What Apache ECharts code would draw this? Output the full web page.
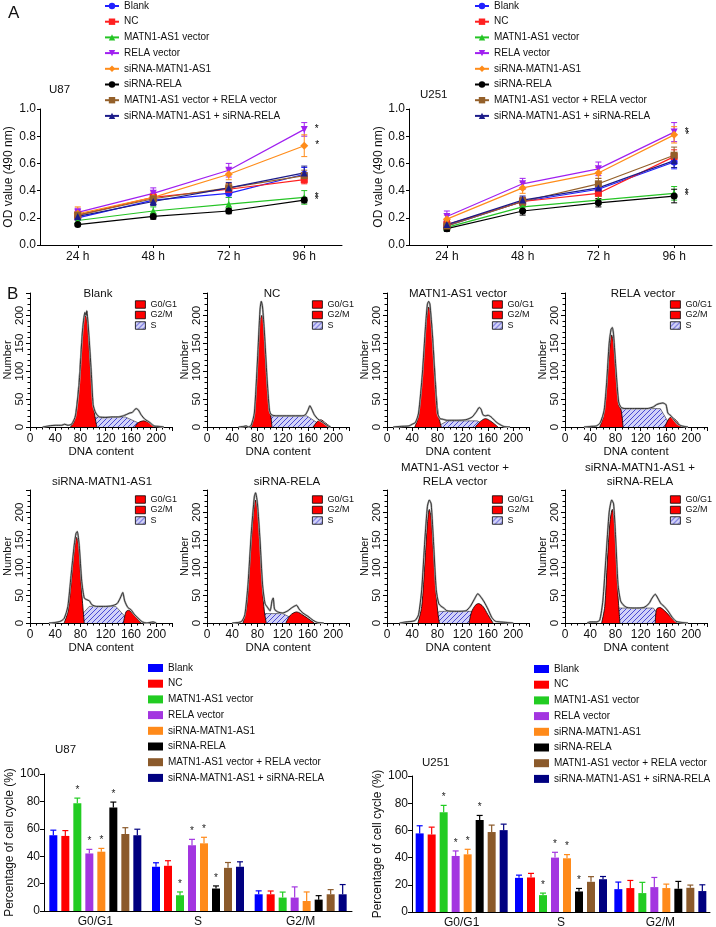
<!DOCTYPE html>
<html><head><meta charset="utf-8">
<script src="https://cdn.jsdelivr.net/npm/echarts@6/dist/echarts.min.js"></script>
<style>html,body{margin:0;padding:0;background:#fff}#c{width:716px;height:927px}</style>
</head><body><div id="c"></div>
<script>
// ---------------- DATA ----------------
const groups = ['Blank','NC','MATN1-AS1 vector','RELA vector','siRNA-MATN1-AS1','siRNA-RELA','MATN1-AS1 vector + RELA vector','siRNA-MATN1-AS1 + siRNA-RELA'];
const timeCats = ['24 h','48 h','72 h','96 h'];

const odU87 = [
 [0.20,0.33,0.38,0.52],
 [0.22,0.35,0.41,0.48],
 [0.18,0.25,0.30,0.35],
 [0.24,0.38,0.55,0.85],
 [0.23,0.35,0.52,0.73],
 [0.15,0.21,0.25,0.33],
 [0.22,0.34,0.42,0.51],
 [0.21,0.32,0.42,0.53]];
const odErrU87 = [
 [0.02,0.03,0.03,0.05],
 [0.03,0.03,0.04,0.03],
 [0.02,0.03,0.05,0.05],
 [0.03,0.04,0.05,0.05],
 [0.05,0.04,0.04,0.08],
 [0.01,0.02,0.02,0.02],
 [0.02,0.03,0.03,0.04],
 [0.02,0.03,0.04,0.05]];
const odStarU87 = [0,0,1,1,1,1,0,0];

const odU251 = [
 [0.14,0.32,0.41,0.61],
 [0.15,0.32,0.38,0.65],
 [0.13,0.28,0.33,0.38],
 [0.21,0.45,0.56,0.83],
 [0.19,0.42,0.53,0.81],
 [0.12,0.25,0.31,0.36],
 [0.14,0.32,0.45,0.66],
 [0.15,0.33,0.42,0.62]];
const odErrU251 = [
 [0.03,0.03,0.04,0.05],
 [0.03,0.03,0.04,0.05],
 [0.02,0.03,0.03,0.05],
 [0.04,0.04,0.05,0.07],
 [0.03,0.04,0.04,0.06],
 [0.02,0.03,0.03,0.05],
 [0.03,0.03,0.04,0.06],
 [0.03,0.03,0.04,0.05]];
const odStarU251 = [0,0,1,1,1,1,0,0];

const phaseCats = ['G0/G1','S','G2/M'];
const cellU87 = [
 [55.3,32.3,12.2],
 [54.8,33.0,12.2],
 [78.7,11.5,9.8],
 [42.0,48.0,9.8],
 [43.3,49.4,7.3],
 [75.5,16.4,8.3],
 [56.2,31.5,12.2],
 [55.3,32.3,12.2]];
const cellErrU87 = [
 [3.7,2.9,2.5],
 [3.9,3.7,2.4],
 [3.7,2.4,4.0],
 [3.0,4.3,7.8],
 [2.4,4.4,6.6],
 [4.0,1.9,2.9],
 [4.6,3.9,3.4],
 [4.4,3.6,7.1]];
const cellStarU87 = [[0,0,0],[0,0,0],[1,1,0],[1,1,0],[1,1,0],[1,1,0],[0,0,0],[0,0,0]];

const cellU251 = [
 [57.8,25.1,16.8],
 [57.0,25.4,17.6],
 [73.4,12.4,13.9],
 [41.2,40.0,18.3],
 [42.4,39.5,17.6],
 [67.6,15.1,17.1],
 [58.8,22.2,17.8],
 [60.2,24.1,15.4]];
const cellErrU251 = [
 [5.6,2.0,5.2],
 [5.4,3.0,5.6],
 [5.0,1.5,7.9],
 [3.7,3.9,7.1],
 [3.7,2.7,2.9],
 [3.4,2.2,5.4],
 [5.1,3.8,2.0],
 [4.4,2.0,4.6]];
const cellStarU251 = [[0,0,0],[0,0,0],[1,1,0],[1,1,0],[1,1,0],[1,1,0],[0,0,0],[0,0,0]];

// flow cytometry histograms: [DNA content, Number]
const histTitles = [['Blank'],['NC'],['MATN1-AS1 vector'],['RELA vector'],['siRNA-MATN1-AS1'],['siRNA-RELA'],['MATN1-AS1 vector +','RELA vector'],['siRNA-MATN1-AS1 +','siRNA-RELA']];

const blankG1 = [[64,0],[70,10],[76,60],[81,140],[85,190],[88,200],[91,185],[95,120],[99,55],[103,18],[106,0]];
const blankS = [[77,0],[106,18],[151,18],[186,0]];
const blankG2 = [[166,0],[172,8],[180,11],[190,7],[200,0]];
const blankRaw = [[20,0],[30,2],[40,3],[50,3],[55,5],[60,3],[66,5],[72,20],[78,80],[83,170],[87,205],[89,200],[90,208],[93,170],[97,100],[100,40],[103,28],[106,22],[110,18],[120,17],[130,18],[140,18],[148,20],[152,22],[158,25],[162,26],[168,33],[172,30],[176,22],[182,14],[190,8],[196,2],[205,1],[212,0]];

const ncG1 = [[70,0],[75,20],[80,110],[84,190],[87,200],[90,180],[94,100],[98,35],[101,20],[103,0]];
const ncS = [[78,0],[101,20],[158,20],[185,0]];
const ncG2 = [[168,0],[175,10],[180,13],[188,7],[196,0]];
const ncRaw = [[50,0],[58,1],[62,2],[66,0],[70,3],[75,25],[80,120],[84,210],[86,225],[88,215],[91,170],[95,90],[99,30],[102,22],[110,20],[130,20],[150,20],[156,22],[160,30],[163,38],[166,32],[170,22],[176,14],[184,8],[190,3],[196,0]];

const matnG1 = [[44,0],[50,20],[56,90],[61,170],[64,205],[66,215],[69,205],[73,150],[77,80],[81,25],[86,0]];
const matnS = [[78,0],[96,11],[143,11],[160,0]];
const matnG2 = [[140,0],[148,10],[156,15],[165,10],[176,0]];
const matnRaw = [[10,0],[20,1],[35,2],[40,5],[45,8],[50,25],[56,95],[61,180],[64,220],[66,225],[68,220],[72,165],[76,90],[80,25],[84,15],[88,14],[95,12],[110,12],[125,13],[135,18],[142,28],[146,35],[149,32],[152,22],[156,20],[160,21],[165,18],[172,10],[178,5],[185,1],[195,0]];

const relaG1 = [[55,0],[61,20],[66,70],[70,130],[74,165],[77,150],[81,90],[85,40],[89,30],[92,0]];
const relaS = [[75,0],[88,33],[151,33],[168,0]];
const relaG2 = [[158,0],[163,12],[168,18],[176,12],[184,0]];
const relaRaw = [[30,0],[40,1],[50,2],[56,8],[62,30],[66,80],[70,150],[73,175],[75,178],[77,165],[81,100],[85,45],[89,35],[95,33],[110,33],[130,33],[140,36],[145,40],[150,42],[155,43],[160,40],[163,25],[168,20],[172,14],[178,6],[185,2],[195,0]];

const simG1 = [[54,0],[60,20],[65,70],[70,130],[74,155],[77,140],[80,90],[83,40],[86,0]];
const simS = [[70,0],[94,30],[136,30],[160,0]];
const simG2 = [[148,0],[152,20],[156,23],[165,14],[176,0]];
const simRaw = [[30,0],[40,1],[48,3],[54,8],[60,30],[65,85],[70,140],[73,162],[75,165],[78,140],[82,75],[86,45],[90,42],[94,40],[98,33],[105,30],[120,30],[130,31],[138,35],[143,45],[147,55],[150,40],[155,28],[160,24],[165,16],[172,8],[178,2],[185,0],[195,2],[200,0]];

const sirG1 = [[57,0],[63,30],[68,110],[73,190],[77,222],[80,205],[84,140],[88,60],[91,20],[94,0]];
const sirS = [[65,0],[84,17],[120,17],[150,0]];
const sirG2 = [[125,0],[132,14],[142,20],[155,12],[170,0]];
const sirRaw = [[40,0],[50,1],[55,3],[60,15],[65,70],[70,160],[75,228],[77,235],[80,215],[84,150],[88,70],[92,35],[96,28],[100,22],[103,40],[105,45],[107,25],[112,20],[120,18],[128,22],[135,28],[142,32],[146,25],[152,18],[160,12],[168,5],[175,1],[185,0]];

const comboG1 = [[49,0],[55,30],[60,110],[64,180],[67,205],[70,190],[74,120],[78,50],[81,15],[83,0]];
const comboS = [[62,0],[83,21],[135,21],[160,0]];
const comboG2 = [[130,0],[134,20],[140,32],[145,35],[152,30],[160,15],[168,0]];
const comboRaw = [[20,0],[30,2],[40,3],[45,5],[50,15],[55,60],[60,150],[64,210],[67,222],[70,215],[74,140],[78,60],[82,35],[86,30],[90,27],[95,22],[110,21],[125,22],[132,30],[138,42],[144,53],[148,48],[154,38],[160,25],[166,10],[172,3],[180,2],[190,1],[200,0]];

const sicoG1 = [[58,0],[63,30],[67,110],[71,180],[75,205],[78,185],[81,120],[84,50],[87,0]];
const sicoS = [[62,0],[78,27],[140,27],[158,0]];
const sicoG2 = [[143,0],[145,25],[150,28],[158,22],[168,10],[178,0]];
const sicoRaw = [[35,0],[40,2],[50,2],[55,5],[60,40],[65,120],[70,200],[74,222],[77,215],[80,160],[84,70],[88,40],[92,33],[98,28],[110,27],[125,28],[133,35],[138,45],[143,52],[147,45],[152,35],[157,30],[163,22],[170,10],[176,3],[185,1],[195,0]];

const histG1 = [blankG1, ncG1, matnG1, relaG1, simG1, sirG1, comboG1, sicoG1];
const histS = [blankS, ncS, matnS, relaS, simS, sirS, comboS, sicoS];
const histG2 = [blankG2, ncG2, matnG2, relaG2, simG2, sirG2, comboG2, sicoG2];
const histRaw = [blankRaw, ncRaw, matnRaw, relaRaw, simRaw, sirRaw, comboRaw, sicoRaw];

// ---------------- STYLE ----------------
const FONT = '"Liberation Sans", Arial, Helvetica, sans-serif';
const lineColors = ['#2020ff','#ff2020','#25c425','#a020f0','#ff8c1a','#000000','#94602a','#1c1c8a'];
const barColors = ['#0000ff','#ff0000','#22cc22','#a335e0','#ff8a1a','#000000','#8b5a2b','#000080'];
const lineSymbols = ['circle','rect','triangle','path://M0,0L10,0L5,9Z','diamond','circle','rect','triangle'];

const hc = document.createElement('canvas');
hc.width = 5; hc.height = 5;
(function(){const c=hc.getContext('2d');c.fillStyle='#d2d2f8';c.fillRect(0,0,5,5);c.strokeStyle='#4a4ad2';c.lineWidth=1;
 c.beginPath();c.moveTo(0,5);c.lineTo(5,0);c.moveTo(-1,1);c.lineTo(1,-1);c.moveTo(4,6);c.lineTo(6,4);c.stroke();})();
const hatch = {image: hc, repeat: 'repeat'};

const grids = [], xAxes = [], yAxes = [], series = [], legends = [], elements = [];
function addGrid(g){ grids.push(Object.assign({outerBoundsMode:'none', containLabel:false}, g)); return grids.length - 1; }
const axisLineBlack = {show:true, lineStyle:{color:'#000', width:1}};
function txt(text, x, y, size, align){
  elements.push({type:'text', x:x, y:y, silent:true, style:{text:text, fill:'#111', font:size+'px '+FONT, align:align||'left', verticalAlign:'middle', textAlign:align||'left', textVerticalAlign:'middle'}});
}

// ---------- Panel A: line charts ----------
const lineCfg = [
 {data:odU87, err:odErrU87, star:odStarU87, left:40, width:302, nameGap:25, title:'U87', tx:49, ty:90, leg:104},
 {data:odU251, err:odErrU251, star:odStarU251, left:409, width:303, nameGap:23, title:'U251', tx:420, ty:95, leg:474}
];
lineCfg.forEach(cfg => {
  const gi = addGrid({left:cfg.left, top:109, width:cfg.width, height:136});
  xAxes.push({type:'category', gridIndex:gi, data:timeCats, boundaryGap:true, axisLine:axisLineBlack,
    axisTick:{show:true, alignWithLabel:true, length:3, lineStyle:{color:'#000'}},
    axisLabel:{color:'#111', fontSize:12, margin:6, fontFamily:FONT}, splitLine:{show:false}});
  yAxes.push({type:'value', gridIndex:gi, min:0, max:1, interval:0.2, axisLine:axisLineBlack,
    axisTick:{show:true, length:3, lineStyle:{color:'#000'}},
    axisLabel:{color:'#111', fontSize:12, margin:4, fontFamily:FONT, formatter:v=>v.toFixed(1)},
    splitLine:{show:false}, name:'OD value (490 nm)', nameLocation:'middle', nameGap:cfg.nameGap, nameRotate:90,
    nameTextStyle:{fontSize:12, color:'#111', fontFamily:FONT}});
  const errData = [];
  groups.forEach((g, i) => {
    series.push({type:'line', name:g, xAxisIndex:gi, yAxisIndex:gi, symbol:lineSymbols[i],
      symbolSize: i===4 ? 8 : 7, z:3, lineStyle:{color:lineColors[i], width:1.2}, itemStyle:{color:lineColors[i]},
      data: cfg.data[i].map((v, k) => (k === 3 && cfg.star[i]) ? {value:v, label:{show:true, formatter:'*', position:'right', distance:7, color:'#000', fontSize:10, fontFamily:FONT}} : v)});
    cfg.data[i].forEach((v, k) => errData.push([k, v, cfg.err[i][k], i]));
  });
  series.push({type:'custom', xAxisIndex:gi, yAxisIndex:gi, z:2, silent:true, data:errData,
    renderItem:(params, api) => {
      const c = api.value(0), v = api.value(1), e = api.value(2), col = lineColors[api.value(3)];
      const t = api.coord([c, v + e]), b = api.coord([c, v - e]);
      const st = {stroke:col, lineWidth:1};
      return {type:'group', children:[
        {type:'line', shape:{x1:t[0], y1:t[1], x2:b[0], y2:b[1]}, style:st},
        {type:'line', shape:{x1:t[0]-3, y1:t[1], x2:t[0]+3, y2:t[1]}, style:st},
        {type:'line', shape:{x1:b[0]-3, y1:b[1], x2:b[0]+3, y2:b[1]}, style:st}]};
    }});
  legends.push({orient:'vertical', left:cfg.leg, top:0, padding:0, itemGap:3.7, itemWidth:14, itemHeight:8, selectedMode:false,
    textStyle:{fontSize:10, color:'#111', fontFamily:FONT, lineHeight:12}, data:groups.slice()});
  txt(cfg.title, cfg.tx, cfg.ty, 11.5);
});
txt('A', 8, 13, 17);
txt('B', 7, 294, 17);

// ---------- Panel B: histograms ----------
const histLeft = [30, 207, 387, 565];
const histTop = [293, 490];
const titleX = [98, 272, 458, 643, 102, 287, 455, 640];
histTitles.forEach((t, p) => {
  const row = p < 4 ? 0 : 1, col = p % 4;
  const gi = addGrid({left:histLeft[col], top:histTop[row], width:142, height: row ? 133 : 134});
  xAxes.push({type:'value', gridIndex:gi, min:0, max:225, interval:40, axisLine:axisLineBlack,
    axisTick:{show:true, length:4, lineStyle:{color:'#000'}},
    minorTick:{show:true, splitNumber:4, length:2.5, lineStyle:{color:'#000'}},
    axisLabel:{showMaxLabel:false, color:'#111', fontSize:12, margin:6, fontFamily:FONT},
    splitLine:{show:false}, minorSplitLine:{show:false},
    name:'DNA content', nameLocation:'middle', nameGap:19, nameTextStyle:{fontSize:11.5, color:'#111', fontFamily:FONT}});
  yAxes.push({type:'value', gridIndex:gi, min:0, max:240, interval:50, axisLine:axisLineBlack,
    axisTick:{show:true, length:4, lineStyle:{color:'#000'}},
    minorTick:{show:true, splitNumber:5, length:2.5, lineStyle:{color:'#000'}},
    axisLabel:{showMaxLabel:false, rotate:90, color:'#111', fontSize:11.5, margin:4, fontFamily:FONT},
    splitLine:{show:false}, minorSplitLine:{show:false},
    name:'Number', nameLocation:'middle', nameGap:16, nameRotate:90, nameTextStyle:{fontSize:11, color:'#111', fontFamily:FONT}});
  series.push({type:'line', name:'S', xAxisIndex:gi, yAxisIndex:gi, data:histS[p], symbol:'none', z:2, silent:true,
    lineStyle:{color:'#333', width:0.6}, itemStyle:{color:'#8080e0'}, areaStyle:{color:hatch, opacity:1}});
  series.push({type:'line', name:'G0/G1', xAxisIndex:gi, yAxisIndex:gi, data:histG1[p], symbol:'none', smooth:0.3, z:3, silent:true,
    lineStyle:{color:'#000', width:0.8}, itemStyle:{color:'#ff0000'}, areaStyle:{color:'#ff0000', opacity:1}});
  series.push({type:'line', name:'G2/M', xAxisIndex:gi, yAxisIndex:gi, data:histG2[p], symbol:'none', smooth:0.3, z:3, silent:true,
    lineStyle:{color:'#000', width:0.8}, itemStyle:{color:'#ff0000'}, areaStyle:{color:'#ff0000', opacity:1}});
  series.push({type:'line', name:'rawg'+p, xAxisIndex:gi, yAxisIndex:gi, data:histRaw[p], symbol:'none', smooth:0.2, z:4, silent:true,
    lineStyle:{color:'#b4b4b4', width:2}});
  series.push({type:'line', name:'raw'+p, xAxisIndex:gi, yAxisIndex:gi, data:histRaw[p], symbol:'none', smooth:0.2, z:5, silent:true,
    lineStyle:{color:'#111', width:0.8}});
  legends.push({orient:'vertical', left:histLeft[col]+105, top: row ? 495 : 300, padding:0, itemGap:1.5, itemWidth:10, itemHeight:7.5,
    selectedMode:false, textStyle:{fontSize:9, color:'#111', fontFamily:FONT, lineHeight:8},
    data:[{name:'G0/G1', icon:'rect', itemStyle:{color:'#ff0000', borderColor:'#000', borderWidth:0.8}},
          {name:'G2/M', icon:'rect', itemStyle:{color:'#ff0000', borderColor:'#000', borderWidth:0.8}},
          {name:'S', icon:'rect', itemStyle:{color:hatch, borderColor:'#000', borderWidth:0.8}}]});
  if (t.length === 1) txt(t[0], titleX[p], row ? 482 : 294, 11.5, 'center');
  else { txt(t[0], titleX[p], 468, 11.5, 'center'); txt(t[1], titleX[p], 482, 11.5, 'center'); }
});

// ---------- Bar charts ----------
const barCfg = [
 {data:cellU87, err:cellErrU87, star:cellStarU87, left:44, top:774, width:308, height:137, nameGap:26, title:'U87', tx:55, ty:750, leg:148, legTop:662},
 {data:cellU251, err:cellErrU251, star:cellStarU251, left:412, top:776, width:298, height:136, nameGap:28, title:'U251', tx:422, ty:763, leg:534, legTop:663}
];
barCfg.forEach(cfg => {
  const gi = addGrid({left:cfg.left, top:cfg.top, width:cfg.width, height:cfg.height});
  xAxes.push({type:'category', gridIndex:gi, data:phaseCats, axisLine:axisLineBlack, axisTick:{show:false},
    axisLabel:{color:'#111', fontSize:12, margin:5, fontFamily:FONT}, splitLine:{show:false}});
  yAxes.push({type:'value', gridIndex:gi, min:0, max:100, interval:20, axisLine:axisLineBlack,
    axisTick:{show:true, length:4, lineStyle:{color:'#000'}},
    axisLabel:{color:'#111', fontSize:12, margin:4, fontFamily:FONT}, splitLine:{show:false},
    name:'Percentage of cell cycle (%)', nameLocation:'middle', nameGap:cfg.nameGap, nameRotate:90,
    nameTextStyle:{fontSize:12, color:'#111', fontFamily:FONT}});
  const errData = [];
  groups.forEach((g, i) => {
    series.push({type:'bar', name:'bar:'+g, xAxisIndex:gi, yAxisIndex:gi, data:cfg.data[i], barWidth:8, barGap:'50%',
      itemStyle:{color:barColors[i]}, z:2});
    cfg.data[i].forEach((v, k) => errData.push([k, v, cfg.err[i][k], i, cfg.star[i][k]]));
  });
  series.push({type:'custom', xAxisIndex:gi, yAxisIndex:gi, z:4, silent:true, data:errData,
    renderItem:(params, api) => {
      const c = api.value(0), v = api.value(1), e = api.value(2), i = api.value(3), s = api.value(4);
      const b = api.coord([c, v]), t = api.coord([c, v + e]);
      const x = b[0] + (i - 3.5) * 12;
      const st = {stroke:barColors[i], lineWidth:1.2};
      const ch = [
        {type:'line', shape:{x1:x, y1:b[1], x2:x, y2:t[1]}, style:st},
        {type:'line', shape:{x1:x-3, y1:t[1], x2:x+3, y2:t[1]}, style:st}];
      if (s) ch.push({type:'text', x:x, y:t[1]-3, style:{text:'*', fill:'#222', font:'10px '+FONT, align:'center', verticalAlign:'bottom', textAlign:'center', textVerticalAlign:'bottom'}});
      return {type:'group', children:ch};
    }});
  legends.push({orient:'vertical', left:cfg.leg, top:cfg.legTop, padding:0, itemGap:3.7, itemWidth:15, itemHeight:8, selectedMode:false,
    icon:'rect', textStyle:{fontSize:10, color:'#111', fontFamily:FONT, lineHeight:12},
    formatter: n => n.slice(4), data:groups.map(g => 'bar:' + g)});
  txt(cfg.title, cfg.tx, cfg.ty, 11.5);
});

const chart = echarts.init(document.getElementById('c'), null, {renderer:'canvas'});
chart.setOption({
  animation:false, backgroundColor:'#fff',
  textStyle:{fontFamily:FONT},
  grid:grids, xAxis:xAxes, yAxis:yAxes, series:series, legend:legends,
  graphic:{elements:elements}
});
</script>
</body></html>
